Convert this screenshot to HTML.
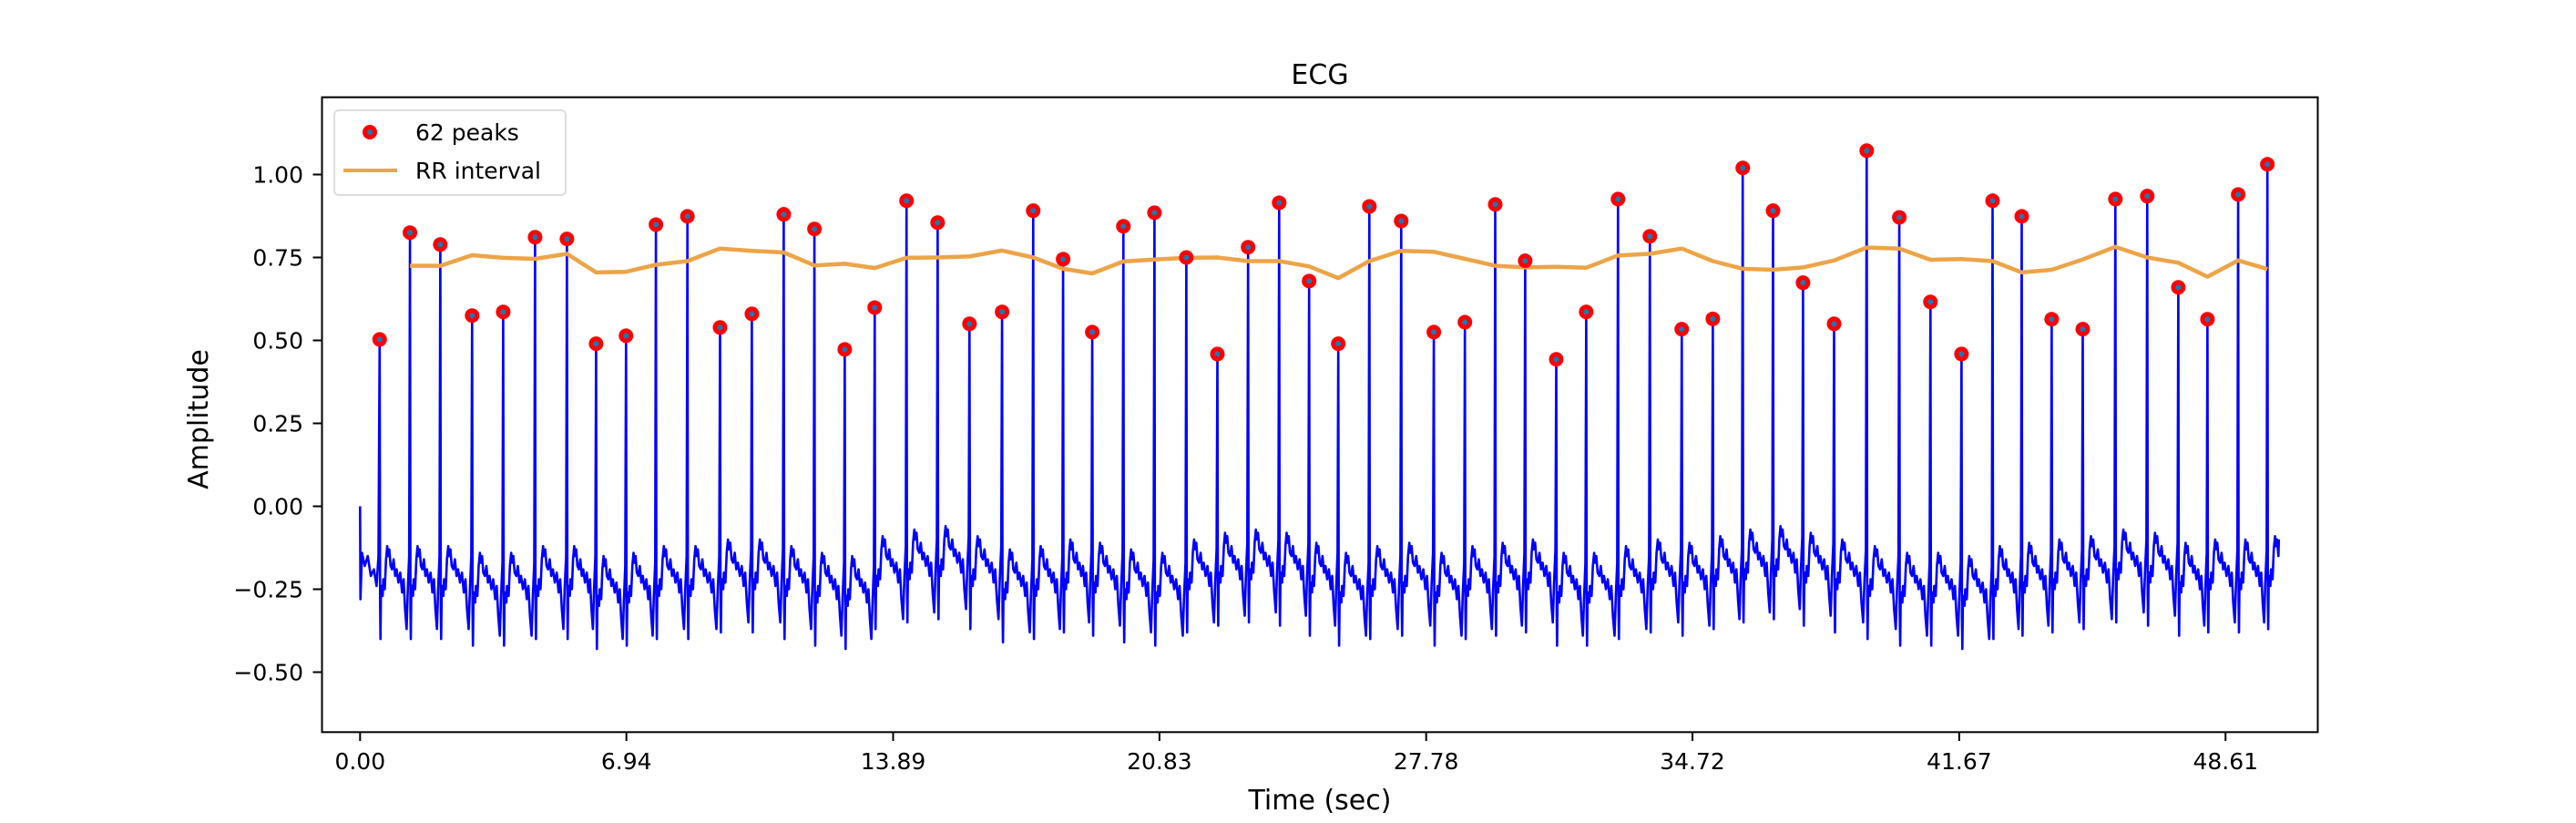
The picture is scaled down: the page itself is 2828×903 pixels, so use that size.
<!DOCTYPE html>
<html><head><meta charset="utf-8">
<style>
html,body{margin:0;padding:0;background:#fff;}
svg{display:block;font-family:"DejaVu Sans","Liberation Sans",sans-serif;}
</style></head>
<body>
<svg id="chart" width="2828" height="903" viewBox="0 0 2828 903" xmlns="http://www.w3.org/2000/svg">
  <rect x="0" y="0" width="2828" height="903" fill="#fff"/>
  <text x="1449" y="92" font-size="30" text-anchor="middle">ECG</text>
  <g id="plot"></g>
  <g id="yticks"></g>
  <g id="xticks"></g>
  <rect x="353.5" y="106.7" width="2191" height="696.6" fill="none" stroke="#000" stroke-width="2"/>
  <text x="878" y="0" font-size="30" text-anchor="middle" transform="translate(0,888)"><tspan x="1449">Time (sec)</tspan></text>
  <text font-size="30" text-anchor="middle" transform="translate(228,460) rotate(-90)">Amplitude</text>
  <g>
    <rect x="367" y="121" width="254" height="93" rx="5" fill="#fff" fill-opacity="0.8" stroke="#ddd" stroke-width="2"/>
    <circle cx="406" cy="145" r="8" fill="#ff0000"/>
    <circle cx="406" cy="145" r="3" fill="#1f77b4"/>
    <text x="456" y="154" font-size="25">62 peaks</text>
    <line x1="377" y1="187" x2="436" y2="187" stroke="#eca447" stroke-width="4"/>
    <text x="456" y="196" font-size="25">RR interval</text>
  </g>
</svg>
<script>
// ---- data ----
const peakTimes = [0.51,1.30,2.09,2.92,3.73,4.56,5.39,6.15,6.93,7.71,8.53,9.38,10.21,11.04,11.84,12.63,13.41,14.24,15.05,15.88,16.73,17.54,18.32,19.08,19.89,20.70,21.53,22.34,23.14,23.95,24.73,25.49,26.30,27.13,27.98,28.79,29.58,30.36,31.17,31.95,32.78,33.61,34.44,35.25,36.03,36.82,37.60,38.41,39.26,40.11,40.92,41.73,42.54,43.30,44.08,44.89,45.74,46.57,47.38,48.14,48.94,49.70];
const peakValues = [0.503,0.825,0.789,0.575,0.586,0.811,0.806,0.490,0.514,0.849,0.874,0.539,0.580,0.880,0.836,0.473,0.599,0.921,0.855,0.550,0.586,0.891,0.745,0.525,0.844,0.885,0.750,0.459,0.781,0.915,0.679,0.490,0.904,0.860,0.525,0.555,0.910,0.740,0.443,0.586,0.926,0.814,0.534,0.565,1.020,0.891,0.674,0.550,1.072,0.871,0.616,0.459,0.921,0.874,0.564,0.534,0.926,0.935,0.660,0.564,0.940,1.031];
const rrValues = [0.725,0.725,0.757,0.749,0.746,0.761,0.705,0.707,0.728,0.739,0.777,0.770,0.765,0.726,0.731,0.718,0.749,0.750,0.753,0.771,0.750,0.716,0.702,0.738,0.744,0.749,0.750,0.739,0.739,0.723,0.688,0.739,0.770,0.767,0.746,0.725,0.720,0.722,0.719,0.756,0.761,0.777,0.739,0.716,0.713,0.720,0.741,0.780,0.777,0.743,0.745,0.739,0.705,0.713,0.744,0.782,0.750,0.734,0.692,0.741,0.715];
const beatShape = [[0.015,-0.30],[0.027,-0.40],[0.043,-0.26],[0.07,-0.24],[0.10,-0.27],[0.12,-0.22],[0.17,-0.25],[0.21,-0.16],[0.25,-0.12],[0.28,-0.15],[0.32,-0.13],[0.36,-0.18],[0.41,-0.19],[0.46,-0.16],[0.51,-0.21],[0.56,-0.19],[0.62,-0.23],[0.68,-0.20],[0.74,-0.26],[0.79,-0.22],[0.84,-0.31],[0.89,-0.37],[0.93,-0.25],[0.975,-0.15]];
const beatShift = [0,0,0,-0.02,-0.02,0,0,-0.03,-0.02,0,0,0.02,0.02,0,-0.02,-0.03,0.03,0.05,0.06,0.03,-0.01,0,0.02,0.01,-0.01,-0.02,0.02,0.04,0.05,0.04,0.01,-0.02,0,0.01,-0.02,0,0.01,0.02,-0.02,-0.02,0,0.02,0.01,0.03,0.05,0.06,0.04,0.02,0,-0.02,-0.02,-0.03,0,0.01,0.02,0.03,0.05,0.04,0.01,0.02,0.02,0.03];
const xTickLabels = ["0.00","6.94","13.89","20.83","27.78","34.72","41.67","48.61"];
const yTickLabels = ["\u22120.50","\u22120.25","0.00","0.25","0.50","0.75","1.00"];
const tEnd = 50.0;

// ---- axes ----
const X = t => 395.3 + 42.13 * t;
const Y = v => 555.5 - 364 * v;
const NS = "http://www.w3.org/2000/svg";
function mk(tag, attrs, parent){const e=document.createElementNS(NS,tag);for(const k in attrs)e.setAttribute(k,attrs[k]);parent.appendChild(e);return e;}
const plot=document.getElementById('plot'), xg=document.getElementById('xticks'), yg=document.getElementById('yticks');

xTickLabels.forEach(l=>{
  const x=X(parseFloat(l));
  const tk=mk('line',{x1:x,y1:803.3,x2:x,y2:813,stroke:'#000','stroke-width':2},xg);
  
  
  const tx=mk('text',{x:x,y:844,'font-size':25,'text-anchor':'middle'},xg);
  
  
  tx.textContent=l;
});
yTickLabels.forEach(l=>{
  const y=Y(parseFloat(l.replace('\u2212','-')));
  const tk=mk('line',{x1:343.5,y1:y,x2:353.5,y2:y,stroke:'#000','stroke-width':2},yg);
  
  
  const tx=mk('text',{x:333,y:y+9,'font-size':25,'text-anchor':'end'},yg);
  
  
  tx.textContent=l;
});

// ---- ECG trace built from beats ----
const pts=[[0,0],[0.01,-0.28],[0.05,-0.14],[0.12,-0.18],[0.2,-0.15],[0.28,-0.21],[0.36,-0.19],[0.43,-0.24],[0.48,-0.15]];
for(let i=0;i<peakTimes.length;i++){
  const t0=peakTimes[i];
  pts.push([t0,peakValues[i]]);
  const next = i+1<peakTimes.length ? peakTimes[i+1] : tEnd+0.3;
  const rr = i+1<peakTimes.length ? next-t0 : 0.8;
  for(const [f,v] of beatShape){
    const t=t0+f*rr;
    if(t>tEnd) break;
    pts.push([t,v+beatShift[i]]);
  }
}
pts.push([tEnd,-0.10]);
const ecg=mk('polyline',{points:pts.map(p=>X(p[0]).toFixed(1)+','+Y(p[1]).toFixed(1)).join(' '),fill:'none',stroke:'#0000ff','stroke-width':2.6,'stroke-linejoin':'round'},plot);



// ---- RR interval line ----
const rrPts=rrValues.map((v,i)=>X(peakTimes[i+1]).toFixed(1)+','+Y(v).toFixed(1)).join(' ');
const rr=mk('polyline',{points:rrPts,fill:'none',stroke:'#eca447','stroke-width':4.5,'stroke-linejoin':'round'},plot);



// ---- peak markers ----
peakTimes.forEach((t,i)=>{
  const c=mk('circle',{cx:X(t),cy:Y(peakValues[i]),r:8,fill:'#ff0000'},plot);
  
  
  const d=mk('circle',{cx:X(t),cy:Y(peakValues[i]),r:3,fill:'#1f77b4'},plot);
  
  
});
</script>
</body></html>
